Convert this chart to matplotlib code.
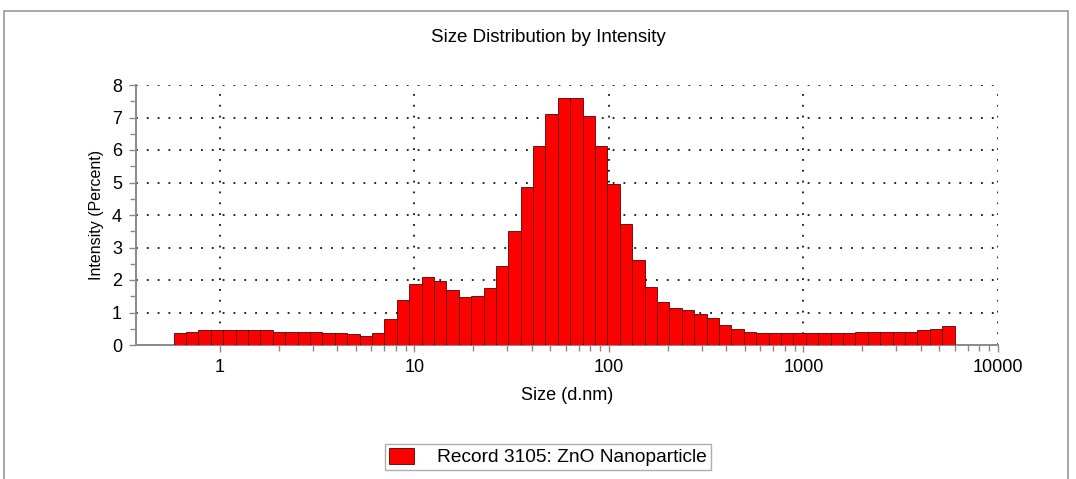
import numpy as np
import matplotlib
matplotlib.use("Agg")
import matplotlib.pyplot as plt
from matplotlib.patches import Patch, Rectangle
from matplotlib.ticker import MultipleLocator, FixedLocator, NullFormatter

plt.rcParams["font.family"] = ["Liberation Sans", "DejaVu Sans"]

# Malvern size classes (d.nm), bin centres of the bars shown
sizes = [0.6213, 0.7195, 0.8332, 0.9649, 1.117, 1.294, 1.499, 1.736, 2.010, 2.328,
         2.696, 3.122, 3.615, 4.187, 4.849, 5.615, 6.503, 7.531, 8.721, 10.10,
         11.70, 13.54, 15.69, 18.17, 21.04, 24.36, 28.21, 32.67, 37.84, 43.82,
         50.75, 58.77, 68.06, 78.82, 91.28, 105.7, 122.4, 141.8, 164.2, 190.1,
         220.2, 255.0, 295.3, 342.0, 396.1, 458.7, 531.2, 615.1, 712.4, 825.0,
         955.4, 1106, 1281, 1484, 1718, 1990, 2305, 2669, 3091, 3580,
         4145, 4801, 5560]

# Intensity (%)
intensity = [0.38, 0.41, 0.45, 0.45, 0.45, 0.45, 0.45, 0.45, 0.41, 0.41,
             0.41, 0.41, 0.38, 0.38, 0.33, 0.28, 0.37, 0.79, 1.37, 1.88,
             2.10, 1.97, 1.69, 1.47, 1.51, 1.74, 2.43, 3.52, 4.86, 6.12,
             7.10, 7.59, 7.59, 7.05, 6.12, 4.95, 3.71, 2.62, 1.77, 1.32,
             1.15, 1.08, 0.95, 0.82, 0.63, 0.50, 0.40, 0.36, 0.36, 0.36,
             0.36, 0.36, 0.36, 0.36, 0.36, 0.40, 0.40, 0.40, 0.40, 0.40,
             0.46, 0.50, 0.59]

major_x = [1, 10, 100, 1000, 10000]
major_x_labels = ["1", "10", "100", "1000", "10000"]
record_label = "Record 3105: ZnO Nanoparticle"
title = "Size Distribution by Intensity"

# bar edges: geometric midpoints between neighbouring class centres
c = np.array(sizes)
mids = np.sqrt(c[:-1] * c[1:])
ratio = c[1] / c[0]
edges = np.concatenate([[c[0] / np.sqrt(ratio)], mids, [c[-1] * np.sqrt(ratio)]])
lefts = edges[:-1]
widths = edges[1:] - edges[:-1]

fig = plt.figure(figsize=(10.76, 4.79), dpi=100)
ax = fig.add_axes([136 / 1076, 1 - 345 / 479, 862 / 1076, 260 / 479])

ax.bar(lefts, intensity, width=widths, align="edge",
       color="#ff0000", edgecolor="#5a0000", linewidth=0.6, zorder=3)

ax.set_xscale("log")
ax.set_xlim(0.37, 10000)
ax.set_ylim(0, 8)

ax.xaxis.set_major_locator(FixedLocator(major_x))
ax.set_xticklabels(major_x_labels)
minor_x = [m * d for d in major_x[:-1] for m in range(2, 10)]
ax.xaxis.set_minor_locator(FixedLocator(minor_x))
ax.xaxis.set_minor_formatter(NullFormatter())
ax.yaxis.set_major_locator(MultipleLocator(1))
ax.yaxis.set_minor_locator(MultipleLocator(0.5))

ax.grid(True, which="major", color="#111111", linestyle=(0, (1, 5)), linewidth=1.3, zorder=0)
ax.set_axisbelow(True)

for side in ["top", "right"]:
    ax.spines[side].set_visible(False)
for side in ["left", "bottom"]:
    ax.spines[side].set_color("#8a8a8a")
    ax.spines[side].set_linewidth(1.4)

ax.tick_params(which="major", direction="out", length=5, width=1, color="#8a8a8a",
               labelsize=13, pad=5)
ax.tick_params(which="minor", direction="out", length=4, width=1, color="#8a8a8a")

ax.set_xlabel("Size (d.nm)", fontsize=13, labelpad=8)
ax.set_ylabel("Intensity (Percent)", fontsize=11.5, labelpad=6)
fig.text(548 / 1076, 1 - 37 / 479, title, ha="center", va="center", fontsize=13.5)

fig.legend(handles=[Patch(facecolor="#ff0000", edgecolor="#5a0000", linewidth=0.6)],
           labels=[record_label], loc="center", bbox_to_anchor=(548 / 1076, 1 - 457 / 479),
           frameon=True, fancybox=False, edgecolor="#999999", fontsize=13.8,
           handlelength=1.3, handleheight=0.9, handletextpad=1.2, borderpad=0.2,
           borderaxespad=0)

# outer frame of the report panel
fig.patches.append(Rectangle((4 / 1076, -0.1), 1064 / 1076, 1.1 - 11 / 479,
                             transform=fig.transFigure, fill=False,
                             edgecolor="#9a9a9a", linewidth=1.2))

fig.savefig("out.png", dpi=100)
